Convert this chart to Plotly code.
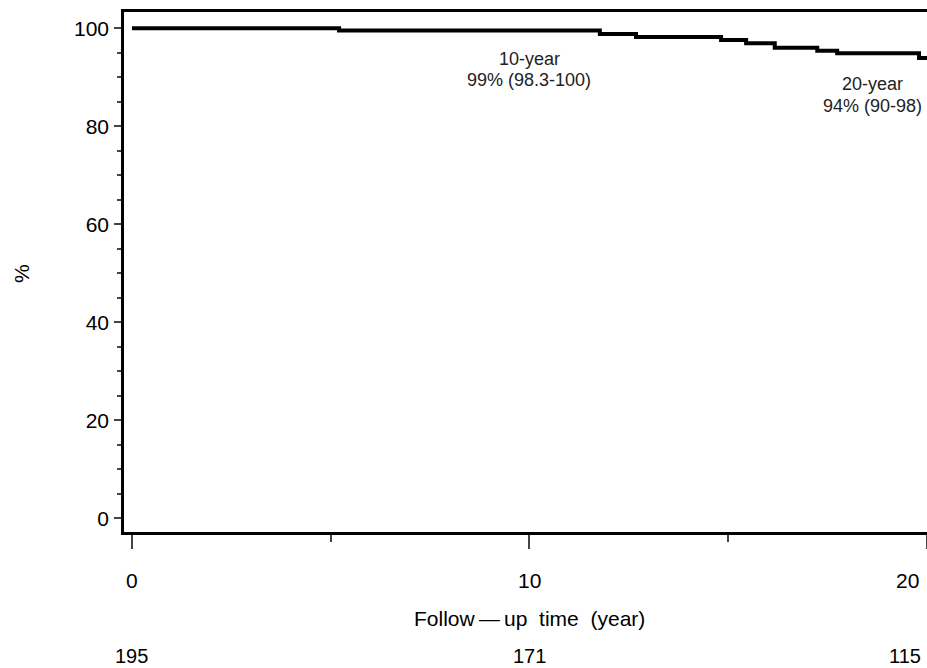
import plotly.graph_objects as go

# Kaplan-Meier step data (years, %)
times = [0, 5.21, 11.77, 12.68, 14.82, 15.45, 16.17, 17.24, 17.74, 19.8, 20.0]
survival = [100, 99.5, 98.8, 98.2, 97.6, 96.9, 96.0, 95.4, 94.9, 93.9, 93.9]

# Axis ticks
x_tick_vals = [0, 10, 20]
x_tick_text = ["0", "10", "20"]
y_tick_vals = [0, 20, 40, 60, 80, 100]

# Numbers at risk
at_risk_times = [0, 10, 20]
at_risk_counts = ["195", "171", "115"]

# Landmark estimates
landmark_x = [10, 18.62]
landmark_title = ["10-year", "20-year"]
landmark_text = ["99% (98.3-100)", "94% (90-98)"]

FONT = "Liberation Sans, Arial, sans-serif"

fig = go.Figure()
fig.add_trace(go.Scatter(
    x=times, y=survival, mode="lines", line=dict(color="black", width=4, shape="hv"),
    showlegend=False, hoverinfo="skip", cliponaxis=False,
))

W, H = 927, 668
ml, mt, mb, mr = 124, 12, 136, 0
ph = H - mt - mb

def py(p):
    return (H - mb - p) / ph

annotations = []
# x tick labels
for v, t in zip(x_tick_vals, x_tick_text):
    last = v == x_tick_vals[-1]
    annotations.append(dict(x=v, y=py(580), xref="x", yref="paper", text=t, showarrow=False,
                            xanchor="right" if last else "center", yanchor="middle",
                            xshift=-6 if last else 0,
                            font=dict(family=FONT, size=21, color="black")))
# at-risk numbers
for v, t in zip(at_risk_times, at_risk_counts):
    last = v == at_risk_times[-1]
    annotations.append(dict(x=v, y=py(656), xref="x", yref="paper", text=t, showarrow=False,
                            xanchor="right" if last else "center", yanchor="middle",
                            xshift=-4 if last else 0,
                            font=dict(family=FONT, size=20, color="black")))
# x-axis title
annotations.append(dict(x=10, y=py(618), xref="x", yref="paper",
                        text="Follow\u2009\u2014\u2009up\u00a0\u00a0time\u00a0\u00a0(year)",
                        showarrow=False, xanchor="center", yanchor="middle",
                        font=dict(family=FONT, size=21, color="black")))
# y-axis title
annotations.append(dict(x=(21 - ml) / (W - ml - mr), y=py(273), xref="paper", yref="paper",
                        text="%", textangle=-90, showarrow=False, xanchor="center", yanchor="middle",
                        font=dict(family=FONT, size=21, color="black")))
# landmark labels
title_y = [58.5, 84]
text_y = [80, 106]
for x, t1, t2, y1, y2 in zip(landmark_x, landmark_title, landmark_text, title_y, text_y):
    annotations.append(dict(x=x, y=py(y1), xref="x", yref="paper", text=t1, showarrow=False,
                            xanchor="center", yanchor="middle",
                            font=dict(family=FONT, size=18, color="#222")))
    annotations.append(dict(x=x, y=py(y2), xref="x", yref="paper", text=t2, showarrow=False,
                            xanchor="center", yanchor="middle",
                            font=dict(family=FONT, size=18, color="#222")))

fig.update_layout(
    width=W, height=H,
    margin=dict(l=ml, r=mr, t=mt, b=mb, pad=0),
    paper_bgcolor="white", plot_bgcolor="white",
    font=dict(family=FONT, color="black"),
    annotations=annotations,
    xaxis=dict(
        range=[-0.2, 20.0], tickvals=x_tick_vals, showticklabels=False,
        ticks="outside", ticklen=14, tickwidth=2, tickcolor="#444",
        minor=dict(dtick=5, tick0=0, ticks="outside", ticklen=7, tickwidth=2, tickcolor="#444"),
        showline=True, linecolor="black", linewidth=2.5, mirror=True,
        showgrid=False, zeroline=False, fixedrange=True,
    ),
    yaxis=dict(
        range=[-2.8, 103.3], tickvals=y_tick_vals,
        ticks="outside", ticklen=7, tickwidth=2, tickcolor="#444",
        minor=dict(dtick=5, tick0=0, ticks="outside", ticklen=4, tickwidth=1.5, tickcolor="#444"),
        tickfont=dict(family=FONT, size=21, color="black"), ticklabelstandoff=1,
        showline=True, linecolor="black", linewidth=2.5,
        showgrid=False, zeroline=False, fixedrange=True,
    ),
)

fig.write_html(
    "out.html",
    config={"displayModeBar": False},
    post_script="document.body.style.margin='0';document.body.style.padding='0';"
                "document.body.style.overflow='hidden';",
)
